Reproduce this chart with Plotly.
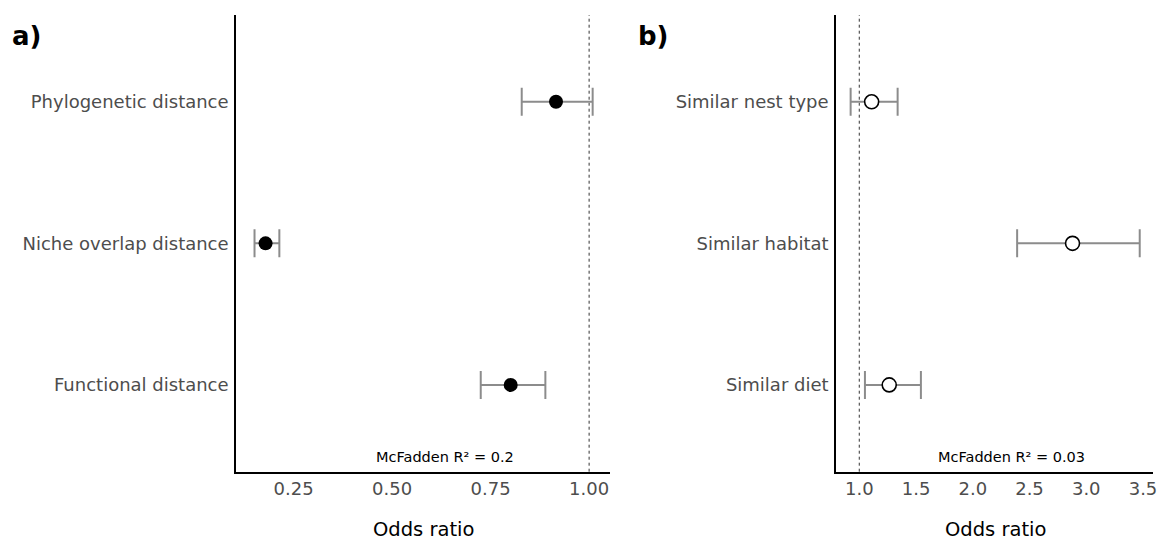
import plotly.graph_objects as go

# ---- data ----
left_labels = ["Phylogenetic distance", "Niche overlap distance", "Functional distance"]
left_or = [0.916, 0.179, 0.801]
left_lo = [0.829, 0.151, 0.725]
left_hi = [1.009, 0.214, 0.889]

right_labels = ["Similar nest type", "Similar habitat", "Similar diet"]
right_or = [1.109, 2.879, 1.264]
right_lo = [0.924, 2.391, 1.050]
right_hi = [1.338, 3.471, 1.543]

left_ticks = [0.25, 0.50, 0.75, 1.00]
left_ticktext = ["0.25", "0.50", "0.75", "1.00"]
right_ticks = [1.0, 1.5, 2.0, 2.5, 3.0, 3.5]
right_ticktext = ["1.0", "1.5", "2.0", "2.5", "3.0", "3.5"]

ypos = [3, 2, 1]

W, H = 1161, 541
FONT = "DejaVu Sans"
GREY_TXT = "#4d4d4d"
ERR_COL = "#8c8c8c"

fig = go.Figure()

fig.add_trace(go.Scatter(
    x=left_or, y=ypos, mode="markers", xaxis="x", yaxis="y",
    marker=dict(size=14, color="black", line=dict(width=0)),
    error_x=dict(type="data", symmetric=False,
                 array=[h - o for h, o in zip(left_hi, left_or)],
                 arrayminus=[o - l for o, l in zip(left_or, left_lo)],
                 color=ERR_COL, thickness=2, width=14),
    showlegend=False, hoverinfo="skip"))

fig.add_trace(go.Scatter(
    x=right_or, y=ypos, mode="markers", xaxis="x2", yaxis="y2",
    marker=dict(size=14, color="white", line=dict(width=1.6, color="black")),
    error_x=dict(type="data", symmetric=False,
                 array=[h - o for h, o in zip(right_hi, right_or)],
                 arrayminus=[o - l for o, l in zip(right_or, right_lo)],
                 color=ERR_COL, thickness=2, width=14),
    showlegend=False, hoverinfo="skip"))

yd = [1 - 471.7 / H, 1 - 15 / H]
axis_common = dict(showgrid=False, zeroline=False, showline=True, linecolor="black",
                   linewidth=1.6, ticks="", automargin=False,
                   tickfont=dict(family=FONT, size=18, color=GREY_TXT))

fig.update_layout(
    width=W, height=H, margin=dict(l=0, r=0, t=0, b=0),
    paper_bgcolor="white", plot_bgcolor="white",
    xaxis=dict(domain=[236 / W, 610 / W], range=[0.104, 1.053],
               tickvals=left_ticks, ticktext=left_ticktext, anchor="y", **axis_common),
    yaxis=dict(domain=yd, range=[0.387, 3.613], tickvals=ypos, ticktext=left_labels,
               anchor="x", ticklabelstandoff=2, **axis_common),
    xaxis2=dict(domain=[836 / W, 1153 / W], range=[0.795, 3.588],
                tickvals=right_ticks, ticktext=right_ticktext, anchor="y2", **axis_common),
    yaxis2=dict(domain=yd, range=[0.387, 3.613], tickvals=ypos, ticktext=right_labels,
                anchor="x2", ticklabelstandoff=2, **axis_common),
)

# reference lines at OR = 1
for xr, yr in (("x", "y"), ("x2", "y2")):
    fig.add_shape(type="line", xref=xr, yref=yr + " domain", x0=1, x1=1, y0=0, y1=1,
                  line=dict(color="#333333", width=1, dash="dot"), layer="below")

# annotations
fig.add_annotation(x=0.635, xref="x", y=1 - 457 / H, yref="paper", yanchor="middle",
                   text="McFadden R² = 0.2", showarrow=False,
                   font=dict(family=FONT, size=14.5, color="black"))
fig.add_annotation(x=2.34, xref="x2", y=1 - 457 / H, yref="paper", yanchor="middle",
                   text="McFadden R² = 0.03", showarrow=False,
                   font=dict(family=FONT, size=14.5, color="black"))

for xc in (423, 995):
    fig.add_annotation(x=xc / W, xref="paper", y=1 - 529 / H, yref="paper",
                       yanchor="middle", xanchor="center", text="Odds ratio",
                       showarrow=False, borderpad=0,
                       font=dict(family=FONT, size=19.5, color="black"))

for xc, lab in ((10, "a)"), (636, "b)")):
    fig.add_annotation(x=xc / W, xref="paper", y=1 - 36 / H, yref="paper",
                       yanchor="middle", xanchor="left", text="<b>" + lab + "</b>",
                       showarrow=False, font=dict(family=FONT, size=26, color="black"))

fig.write_html("out.html")
